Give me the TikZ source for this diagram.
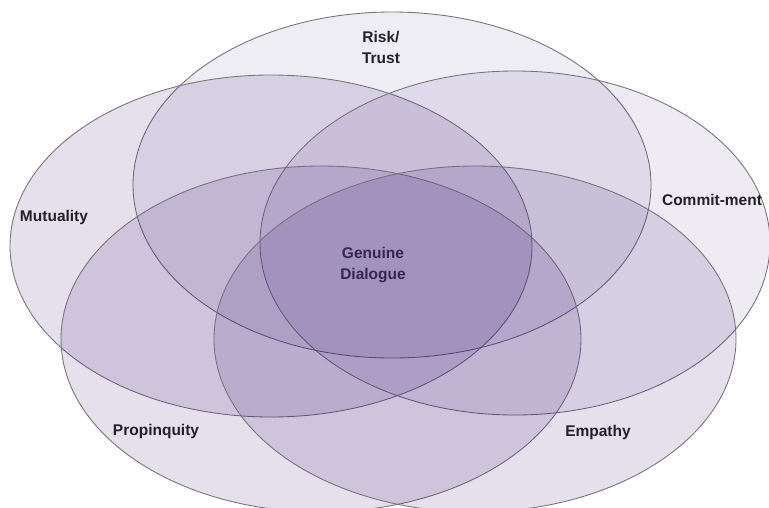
\documentclass[tikz,border=0pt]{standalone}
\usepackage{fontspec}
\setmainfont{Liberation Sans}
\usetikzlibrary{shapes.geometric}
\definecolor{venn}{RGB}{42,0,104}
\definecolor{edgegray}{RGB}{115,113,122}
\definecolor{lbl}{RGB}{34,34,38}
\definecolor{core}{RGB}{52,38,82}
\tikzset{
  vset/.style={ellipse, draw=edgegray, line width=0.85pt, fill=venn, inner sep=0pt, outer sep=0pt},
  vlabel/.style={text=lbl, font=\fontsize{15.5}{21}\selectfont\bfseries, inner sep=0pt},
}
\begin{document}
\begin{tikzpicture}[x=1pt,y=-1pt]
\useasboundingbox (0,0) rectangle (769,507);
\fill[white] (0,0) rectangle (769,507);
\clip (0,0) rectangle (769,507);
\node[vset, minimum width=518pt, minimum height=346pt, fill opacity=0.07] (risk) at (392,185) {};
\node[vset, minimum width=522pt, minimum height=342pt, fill opacity=0.12] (mutual) at (271,246) {};
\node[vset, minimum width=510pt, minimum height=344pt, fill opacity=0.08] (commit) at (515,243) {};
\node[vset, minimum width=520pt, minimum height=346pt, fill opacity=0.12] (propin) at (321,339) {};
\node[vset, minimum width=522pt, minimum height=346pt, fill opacity=0.12] (empathy) at (475,339) {};
\node[vlabel, align=center] (lrisk) at (381,47.5) {Risk/\\Trust};
\node[vlabel, anchor=base] (lmutual) at (54,221.5) {Mutuality};
\node[vlabel, anchor=base] (lcommit) at (712,205.5) {Commit-ment};
\node[vlabel, anchor=base] (lpropin) at (156,435.5) {Propinquity};
\node[vlabel, anchor=base] (lempathy) at (598,436) {Empathy};
\node[vlabel, align=center, text=core] (lcore) at (373,265) {Genuine\\Dialogue};
\end{tikzpicture}
\end{document}
